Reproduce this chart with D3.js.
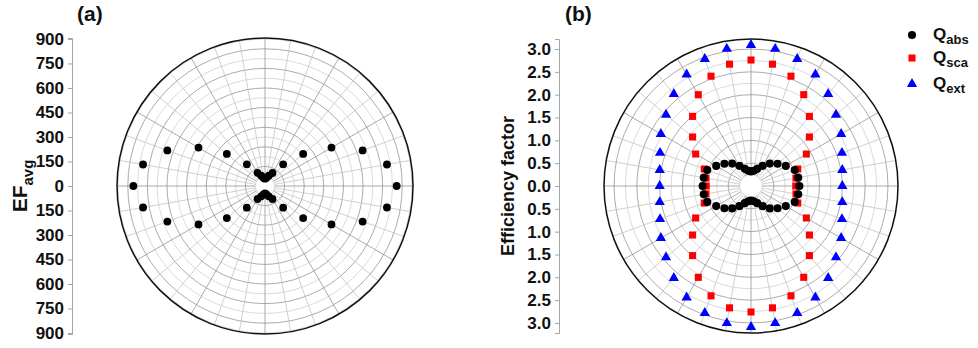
<!DOCTYPE html>
<html>
<head>
<meta charset="utf-8">
<script src="https://cdn.jsdelivr.net/npm/d3@7"></script>
<style>
  body { margin: 0; background: #fff; }
  svg { display: block; font-family: "Liberation Sans", Arial, sans-serif; font-weight: bold; }
</style>
</head>
<body>
<svg id="chart" width="978" height="348"></svg>
<script>
// Polarization angle (degrees), one sample every 10 degrees
const angles = [0, 10, 20, 30, 40, 50, 60, 70, 80, 90, 100, 110, 120, 130, 140, 150, 160, 170,
                180, 190, 200, 210, 220, 230, 240, 250, 260, 270, 280, 290, 300, 310, 320, 330, 340, 350];

// (a) average enhancement factor
const efAvg = [806, 758, 636, 470, 305, 173, 92, 67, 52, 45, 52, 67, 92, 173, 305, 470, 636, 758,
               806, 758, 636, 470, 305, 173, 92, 67, 52, 45, 52, 67, 92, 173, 305, 470, 636, 758];

// (b) efficiency factors
const qAbs = [1.06, 1.05, 1.02, 0.88, 0.76, 0.64, 0.51, 0.40, 0.34, 0.32, 0.34, 0.40, 0.51, 0.64, 0.76, 0.88, 1.02, 1.05,
              1.06, 1.05, 1.02, 0.88, 0.76, 0.64, 0.51, 0.40, 0.34, 0.32, 0.34, 0.40, 0.51, 0.64, 0.76, 0.88, 1.02, 1.05];
const qSca = [0.98, 1.00, 1.09, 1.40, 1.67, 1.99, 2.31, 2.56, 2.71, 2.76, 2.71, 2.56, 2.31, 1.99, 1.67, 1.40, 1.09, 1.00,
              0.98, 1.00, 1.09, 1.40, 1.67, 1.99, 2.31, 2.56, 2.71, 2.76, 2.71, 2.56, 2.31, 1.99, 1.67, 1.40, 1.09, 1.00];
const qExt = [2.00, 2.03, 2.12, 2.28, 2.43, 2.63, 2.82, 2.96, 3.05, 3.09, 3.05, 2.96, 2.82, 2.63, 2.43, 2.28, 2.12, 2.03,
              2.00, 2.03, 2.12, 2.28, 2.43, 2.63, 2.82, 2.96, 3.05, 3.09, 3.05, 2.96, 2.82, 2.63, 2.43, 2.28, 2.12, 2.03];

// Radial axis tick labels
const efTicks = [0, 150, 300, 450, 600, 750, 900];
const qTicks = [0, 0.5, 1.0, 1.5, 2.0, 2.5, 3.0];

const svg = d3.select("#chart");

function drawPanel(cfg) {
  const { cx, cy, R, rMax, gridStep, majorEvery, ticks, minorStep, fmt, axisX } = cfg;
  const r = d3.scaleLinear().domain([0, rMax]).range([0, R]);
  const g = svg.append("g");

  // circular grid
  const gridVals = d3.range(gridStep, rMax - 1e-9, gridStep);
  gridVals.forEach((v, i) => {
    g.append("circle")
      .attr("cx", cx).attr("cy", cy).attr("r", r(v))
      .attr("fill", "none")
      .attr("stroke", (i + 1) % majorEvery === 0 ? "#959595" : "#d0d0d0")
      .attr("stroke-width", 0.8);
  });
  // angular grid
  const r0 = r(gridStep);
  d3.range(0, 360, 10).forEach(a => {
    const t = a * Math.PI / 180;
    g.append("line")
      .attr("x1", cx + r0 * Math.cos(t)).attr("y1", cy - r0 * Math.sin(t))
      .attr("x2", cx + R * Math.cos(t)).attr("y2", cy - R * Math.sin(t))
      .attr("stroke", a % 30 === 0 ? "#959595" : "#c4c4c4")
      .attr("stroke-width", 0.8);
  });
  // outer boundary
  g.append("circle").attr("cx", cx).attr("cy", cy).attr("r", R)
    .attr("fill", "none").attr("stroke", "#111").attr("stroke-width", 1.5);

  // mirrored radial axis on the left
  const y = d3.scaleLinear().domain([-rMax, rMax]).range([cy + R, cy - R]);
  const tv = ticks.slice(1).map(d => -d).reverse().concat(ticks);
  const minors = [];
  for (let v = minorStep; v <= rMax + 1e-9; v += minorStep) { minors.push(v, -v); }
  const ax = svg.append("g").attr("transform", `translate(${axisX},0)`);
  ax.call(d3.axisLeft(y).tickValues(minors).tickSize(2).tickFormat(""));
  ax.call(d3.axisLeft(y).tickValues(tv).tickSize(4).tickPadding(4)
    .tickFormat(d => fmt(Math.abs(d))));
  ax.selectAll("path.domain, line").attr("stroke", "#a5a5a5");
  ax.selectAll("text").attr("fill", "#111").style("font-size", "17px")
    .style("font-family", "'Liberation Sans', Arial, sans-serif").style("font-weight", "bold");
  return { g, r, cx, cy };
}

function pt(p, a, v) {
  const t = a * Math.PI / 180;
  return [p.cx + p.r(v) * Math.cos(t), p.cy - p.r(v) * Math.sin(t)];
}

// ---- panel (a)
const pa = drawPanel({ cx: 265, cy: 186, R: 148, rMax: 906, gridStep: 60, majorEvery: 2,
  ticks: efTicks, minorStep: 75, fmt: d3.format("d"), axisX: 72 });
pa.g.selectAll("circle.ef").data(angles).join("circle").attr("class", "ef")
  .attr("cx", (a, i) => pt(pa, a, efAvg[i])[0])
  .attr("cy", (a, i) => pt(pa, a, efAvg[i])[1])
  .attr("r", 3.9).attr("fill", "#000");

// ---- panel (b)
const pb = drawPanel({ cx: 751, cy: 186, R: 147, rMax: 3.22, gridStep: 0.25, majorEvery: 2,
  ticks: qTicks, minorStep: 0.25, fmt: d3.format(".1f"), axisX: 559 });
const sym = {
  abs: d3.symbol().type(d3.symbolCircle).size(52),
  sca: d3.symbol().type(d3.symbolSquare).size(50),
  ext: d3.symbol().type(d3.symbolTriangle).size(46)
};
const series = [
  { key: "ext", vals: qExt, color: "#0000ff" },
  { key: "sca", vals: qSca, color: "#ff0000" },
  { key: "abs", vals: qAbs, color: "#000000" }
];
series.forEach(s => {
  pb.g.selectAll("path.s-" + s.key).data(angles).join("path").attr("class", "s-" + s.key)
    .attr("d", sym[s.key])
    .attr("transform", (a, i) => { const p = pt(pb, a, s.vals[i]); return `translate(${p[0]},${p[1]})`; })
    .attr("fill", s.color);
});

// ---- legend
const legend = svg.append("g");
const legItems = [
  { key: "abs", sub: "abs", color: "#000000", y: 35 },
  { key: "sca", sub: "sca", color: "#ff0000", y: 58 },
  { key: "ext", sub: "ext", color: "#0000ff", y: 84 }
];
legItems.forEach(d => {
  legend.append("path").attr("d", sym[d.key]).attr("fill", d.color)
    .attr("transform", `translate(912,${d.y})`);
  const t = legend.append("text").attr("x", 933).attr("y", d.y + 5).style("font-size", "17px").attr("fill", "#111");
  t.append("tspan").text("Q");
  t.append("tspan").attr("dy", 4).style("font-size", "13px").text(d.sub);
});

// ---- titles and axis labels
svg.append("text").attr("x", 77).attr("y", 21).style("font-size", "21px").attr("fill", "#111").text("(a)");
svg.append("text").attr("x", 565).attr("y", 21).style("font-size", "21px").attr("fill", "#111").text("(b)");

const efLab = svg.append("text").attr("transform", "translate(27,186) rotate(-90)")
  .attr("text-anchor", "middle").style("font-size", "21px").attr("fill", "#111");
efLab.append("tspan").text("EF");
efLab.append("tspan").attr("dy", 6).style("font-size", "15px").text("avg");

svg.append("text").attr("transform", "translate(514,186) rotate(-90)")
  .attr("text-anchor", "middle").style("font-size", "18px").attr("fill", "#111")
  .text("Efficiency factor");
</script>
</body>
</html>
